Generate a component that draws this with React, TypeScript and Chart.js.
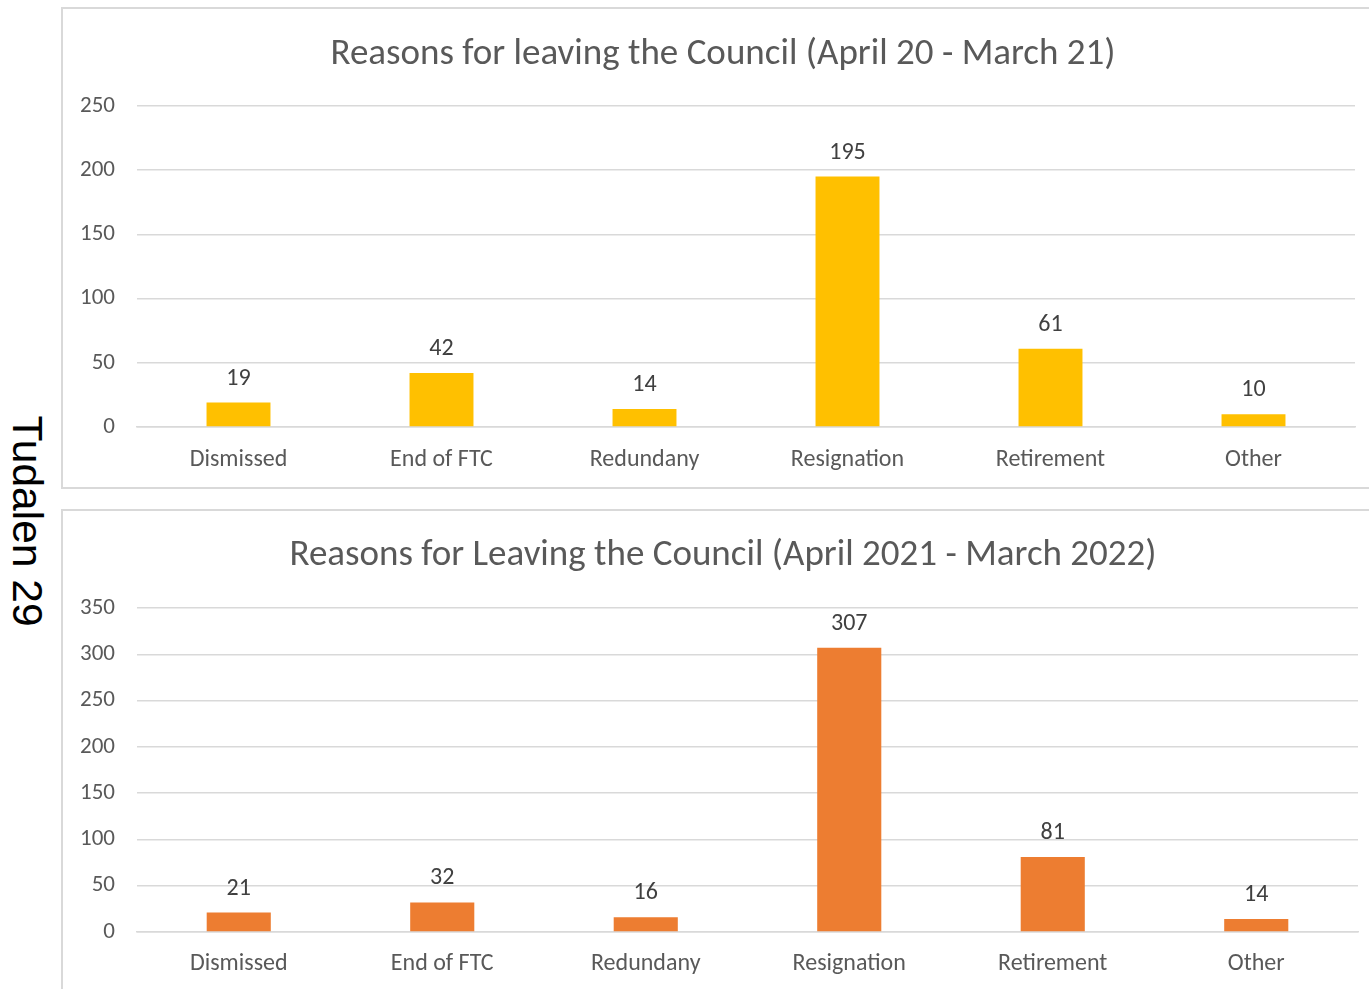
import React, { useEffect, useRef } from "react";
import { Chart, registerables } from "chart.js";

Chart.register(...registerables);

const categories = ["Dismissed", "End of FTC", "Redundany", "Resignation", "Retirement", "Other"];
const values2020 = [19, 42, 14, 195, 61, 10];
const values2021 = [21, 32, 16, 307, 81, 14];
const title2020 = "Reasons for leaving the Council (April 20 - March 21)";
const title2021 = "Reasons for Leaving the Council (April 2021 - March 2022)";
const yMax2020 = 250;
const yMax2021 = 350;
const yStep = 50;

const FONT = "Calibri, Carlito, 'Open Sans', sans-serif";

const dataLabelPlugin = {
  id: "dataLabels",
  afterDatasetsDraw(chart: any) {
    const ctx = chart.ctx;
    const meta = chart.getDatasetMeta(0);
    const data = chart.data.datasets[0].data;
    ctx.save();
    ctx.font = `24px ${FONT}`;
    ctx.fillStyle = "#404040";
    ctx.textAlign = "center";
    ctx.textBaseline = "middle";
    meta.data.forEach((bar: any, i: number) => {
      ctx.fillText(String(data[i]), bar.x, bar.y - 24);
    });
    ctx.restore();
  },
};

const centeredTitlePlugin = {
  id: "centeredTitle",
  afterDraw(chart: any, _args: any, opts: any) {
    const ctx = chart.ctx;
    ctx.save();
    ctx.font = `37px ${FONT}`;
    ctx.fillStyle = "#595959";
    ctx.textAlign = "center";
    ctx.textBaseline = "middle";
    ctx.fillText(opts.text, chart.width / 2, opts.y);
    ctx.restore();
  },
};

type Props = {
  title: string;
  values: number[];
  color: string;
  max: number;
  xHeight: number;
  xPad: number;
  titleY: number;
  top: number;
  right: number;
};

function BarChart(p: Props) {
  const ref = useRef<HTMLCanvasElement>(null);
  useEffect(() => {
    if (!ref.current) return;
    const chart = new Chart(ref.current, {
      type: "bar",
      data: {
        labels: categories,
        datasets: [
          {
            data: p.values,
            backgroundColor: p.color,
            categoryPercentage: 1,
            barPercentage: 0.315,
          },
        ],
      },
      plugins: [dataLabelPlugin, centeredTitlePlugin],
      options: {
        animation: false,
        responsive: false,
        maintainAspectRatio: false,
        layout: { padding: { left: 0, right: p.right, top: p.top, bottom: 0 } },
        plugins: {
          legend: { display: false },
          tooltip: { enabled: false },
          title: { display: false },
          centeredTitle: { text: p.title, y: p.titleY },
        },
        scales: {
          x: {
            grid: { display: false, drawTicks: false },
            border: { display: true, color: "#d9d9d9", width: 1.5 },
            ticks: {
              color: "#595959",
              font: { family: FONT, size: 24 },
              padding: p.xPad,
              maxRotation: 0,
              autoSkip: false,
            },
            afterFit: (s: any) => {
              s.height = p.xHeight;
            },
          },
          y: {
            min: 0,
            max: p.max,
            grid: { color: "#d9d9d9", lineWidth: 1.5, drawTicks: false },
            border: { display: false },
            ticks: {
              stepSize: yStep,
              color: "#595959",
              font: { family: FONT, size: 23 },
              padding: 22,
            },
            afterFit: (s: any) => {
              s.width = 74;
            },
          },
        },
      },
    } as any);
    return () => chart.destroy();
  }, []);
  return <canvas ref={ref} width={1320} height={478} style={{ display: "block", width: 1320, height: 478 }} />;
}

export default function App() {
  return (
    <div
      style={{
        position: "absolute",
        left: 0,
        top: 0,
        width: 1369,
        height: 989,
        overflow: "hidden",
        background: "#fff",
      }}
    >
      <div
        style={{
          position: "absolute",
          left: 27,
          top: 521,
          transform: "translate(-50%, -50%) rotate(90deg)",
          fontFamily: "'Liberation Sans', Arial, sans-serif",
          fontSize: 42.5,
          color: "#000",
          whiteSpace: "nowrap",
          lineHeight: 1,
        }}
      >
        Tudalen 29
      </div>
      <div
        style={{
          position: "absolute",
          left: 61,
          top: 7,
          width: 1320,
          height: 478,
          border: "2px solid #d9d9d9",
        }}
      >
        <BarChart
          title={title2020}
          values={values2020}
          color="#FFC000"
          max={yMax2020}
          xHeight={60}
          xPad={19}
          titleY={46}
          top={97}
          right={28}
        />
      </div>
      <div
        style={{
          position: "absolute",
          left: 61,
          top: 509,
          width: 1320,
          height: 478,
          border: "2px solid #d9d9d9",
        }}
      >
        <BarChart
          title={title2021}
          values={values2021}
          color="#ED7D31"
          max={yMax2021}
          xHeight={57}
          xPad={18}
          titleY={45}
          top={97}
          right={25}
        />
      </div>
    </div>
  );
}
